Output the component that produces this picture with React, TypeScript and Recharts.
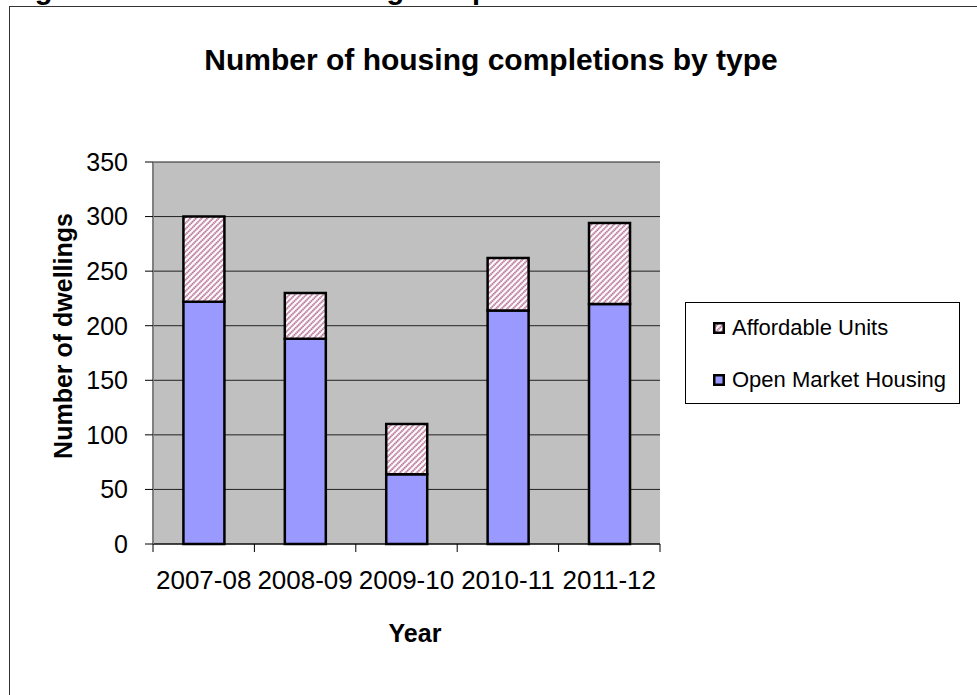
import React from 'react';
import { BarChart, Bar, XAxis, YAxis, CartesianGrid } from 'recharts';

const years = ['2007-08', '2008-09', '2009-10', '2010-11', '2011-12'];
const openMarket = [222, 188, 64, 214, 220];
const affordable = [78, 42, 46, 48, 74];
const yTicks = [0, 50, 100, 150, 200, 250, 300, 350];

const data = years.map((year, i) => ({ year, open: openMarket[i], affordable: affordable[i] }));

const FONT = '"Liberation Sans", Arial, sans-serif';
const PLOT_LEFT = 153;
const PLOT_RIGHT = 660;
const PLOT_TOP = 162;
const PLOT_BOTTOM = 544;
const Y_AXIS_W = 60;
const X_AXIS_H = 60;
const half = (PLOT_RIGHT - PLOT_LEFT) / years.length / 2;

const YearTick = (props: any) => {
  const { x, y, payload, index } = props;
  return (
    <g>
      <line x1={x - half} x2={x - half} y1={y} y2={y + 8} stroke="#000" />
      {index === years.length - 1 && <line x1={x + half} x2={x + half} y1={y} y2={y + 8} stroke="#000" />}
      <text x={x} y={y + 45} textAnchor="middle" fontSize={26} fill="#000" fontFamily={FONT}>
        {payload.value}
      </text>
    </g>
  );
};

const Hatch = ({ id }: { id: string }) => (
  <pattern id={id} patternUnits="userSpaceOnUse" width={4} height={4} patternTransform="rotate(45)">
    <rect width={4} height={4} fill="#fff" />
    <line x1={1} y1={0} x2={1} y2={4} stroke="#A8507E" strokeWidth={1.6} strokeDasharray="1.4 0.6" />
  </pattern>
);

const Swatch = ({ fill }: { fill: string }) => (
  <svg width={12} height={12} style={{ display: 'block' }}>
    <defs><Hatch id="hatchLegend" /></defs>
    <rect x={1.25} y={1.25} width={9.5} height={9.5} fill={fill} stroke="#000" strokeWidth={2.5} />
  </svg>
);

const legendItems = [
  { label: 'Affordable Units', fill: 'url(#hatchLegend)' },
  { label: 'Open Market Housing', fill: '#9999FF' },
];

export default function App() {
  return (
    <div style={{ position: 'relative', width: 977, height: 695, overflow: 'hidden', background: '#fff', fontFamily: FONT }}>
      <style>{'body{margin:0}'}</style>
      <svg width={977} height={40} style={{ position: 'absolute', left: 0, top: 0 }}>
        <text x={9} y={-1} fontSize={29} fontWeight="bold" fontFamily={FONT} fill="#000">
          Figure 3: Affordable housing completions
        </text>
      </svg>
      <div style={{ position: 'absolute', left: 9, top: 6, width: 1200, height: 1000, border: '1px solid #333' }} />
      <div style={{ position: 'absolute', left: 0, top: 0 }}>
        <BarChart
          width={977}
          height={695}
          data={data}
          margin={{
            top: PLOT_TOP,
            right: 977 - PLOT_RIGHT,
            bottom: 695 - PLOT_BOTTOM - X_AXIS_H,
            left: PLOT_LEFT - Y_AXIS_W,
          }}
          barCategoryGap="30%"
        >
          <defs>
            <Hatch id="hatchBar" />
          </defs>
          <CartesianGrid vertical={false} fill="#C0C0C0" stroke="#222" fillOpacity={1} />
          <XAxis
            dataKey="year"
            height={X_AXIS_H}
            interval={0}
            tickLine={false}
            tickSize={0}
            tickMargin={0}
            tick={<YearTick />}
            axisLine={{ stroke: '#000', strokeWidth: 1 }}
          />
          <YAxis
            width={Y_AXIS_W}
            domain={[0, 350]}
            ticks={yTicks}
            interval={0}
            tickSize={8}
            tickMargin={17}
            tick={{ fontSize: 25, fill: '#000', fontFamily: FONT }}
            tickLine={{ stroke: '#000' }}
            axisLine={{ stroke: '#808080', strokeWidth: 2 }}
          />
          <Bar dataKey="open" stackId="a" fill="#9999FF" stroke="#000" strokeWidth={2.5} isAnimationActive={false} />
          <Bar dataKey="affordable" stackId="a" fill="url(#hatchBar)" stroke="#000" strokeWidth={2.5} isAnimationActive={false} />
        </BarChart>
      </div>
      <svg width={977} height={695} style={{ position: 'absolute', left: 0, top: 0, pointerEvents: 'none' }}>
        <text x={491} y={70} textAnchor="middle" fontSize={30} fontWeight="bold" fontFamily={FONT} fill="#000">
          Number of housing completions by type
        </text>
        <text x={415} y={642} textAnchor="middle" fontSize={25} fontWeight="bold" fontFamily={FONT} fill="#000">
          Year
        </text>
        <text
          x={0}
          y={0}
          transform="translate(72 336) rotate(-90)"
          textAnchor="middle"
          fontSize={25}
          fontWeight="bold"
          fontFamily={FONT}
          fill="#000"
        >
          Number of dwellings
        </text>
      </svg>
      <div
        style={{
          position: 'absolute',
          left: 685,
          top: 302,
          width: 275,
          height: 102,
          boxSizing: 'border-box',
          border: '1px solid #000',
          background: '#fff',
        }}
      >
        {legendItems.map((item, i) => (
          <div
            key={item.label}
            style={{ position: 'absolute', left: 27, top: 10 + i * 52, height: 30, display: 'flex', alignItems: 'center', gap: 7 }}
          >
            <Swatch fill={item.fill} />
            <span style={{ fontSize: 22, color: '#000', whiteSpace: 'nowrap' }}>{item.label}</span>
          </div>
        ))}
      </div>
    </div>
  );
}
